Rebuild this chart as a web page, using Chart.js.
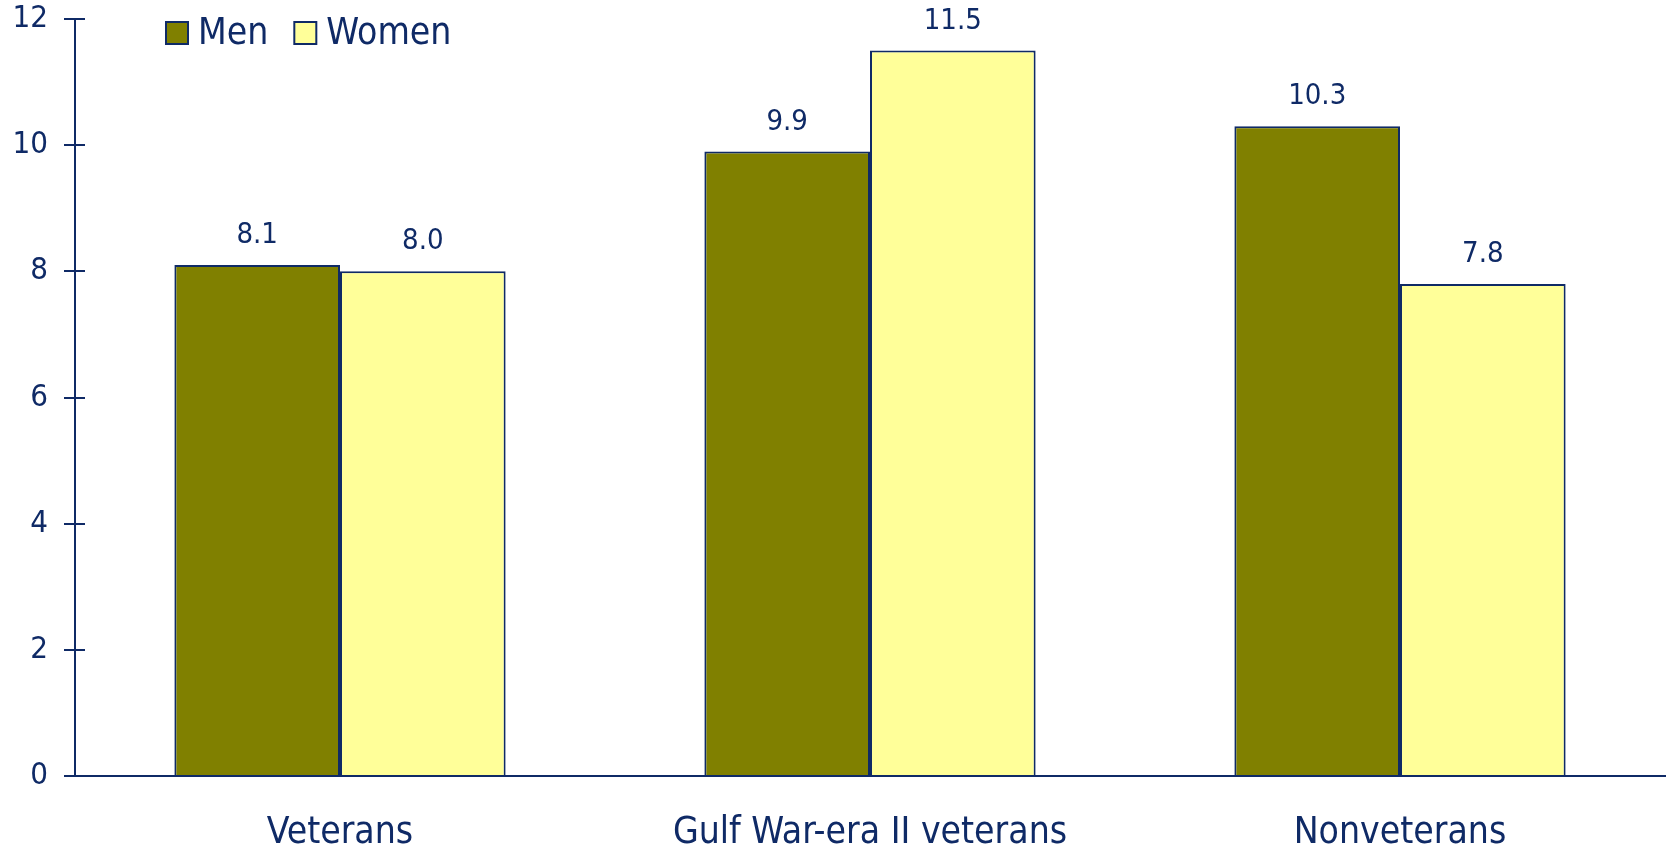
<!DOCTYPE html>
<html>
<head>
<meta charset="utf-8">
<style>
  html, body { margin: 0; padding: 0; background: #fff; }
  canvas { display: block; }
</style>
<script src="https://cdn.jsdelivr.net/npm/chart.js@4/dist/chart.umd.min.js"></script>
</head>
<body>
<canvas id="chart" width="1670" height="849"></canvas>
<script>
  var categories = ['Veterans', 'Gulf War-era II veterans', 'Nonveterans'];
  var menValues = [8.1, 9.9, 10.3];
  var womenValues = [8.0, 11.5, 7.8];
  var yTicks = [0, 2, 4, 6, 8, 10, 12];

  var NAVY = '#0f2a66';
  var FONT = '"DejaVu Sans Condensed", "DejaVu Sans", sans-serif';

  // value labels above each bar
  var valueLabels = {
    id: 'valueLabels',
    afterDatasetsDraw: function (chart) {
      var ctx = chart.ctx;
      ctx.save();
      ctx.fillStyle = NAVY;
      ctx.font = '29px ' + FONT;
      ctx.textAlign = 'center';
      ctx.textBaseline = 'bottom';
      chart.data.datasets.forEach(function (ds, i) {
        var meta = chart.getDatasetMeta(i);
        meta.data.forEach(function (bar, j) {
          ctx.fillText(ds.data[j].toFixed(1), bar.x, bar.y - 15);
        });
      });
      ctx.restore();
    }
  };

  // legend inside the plot, top-left
  var insideLegend = {
    id: 'insideLegend',
    afterDraw: function (chart) {
      var ctx = chart.ctx;
      var x = chart.chartArea.left + 91;
      var top = 22;
      var box = 22;
      ctx.save();
      ctx.font = '37px ' + FONT;
      ctx.textBaseline = 'middle';
      chart.data.datasets.forEach(function (ds) {
        ctx.fillStyle = ds.backgroundColor;
        ctx.fillRect(x, top, box, box);
        ctx.lineWidth = 2;
        ctx.strokeStyle = NAVY;
        ctx.strokeRect(x, top, box, box);
        ctx.fillStyle = NAVY;
        ctx.fillText(ds.label, x + box + 10, top + box / 2 + 1);
        x += box + 10 + ctx.measureText(ds.label).width + 26;
      });
      ctx.restore();
    }
  };

  // small inner part of the y tick marks (they cross the axis)
  var crossTicks = {
    id: 'crossTicks',
    afterDraw: function (chart) {
      var ctx = chart.ctx;
      var y = chart.scales.y;
      ctx.save();
      ctx.strokeStyle = NAVY;
      ctx.lineWidth = 2;
      y.ticks.forEach(function (t) {
        var py = Math.round(y.getPixelForValue(t.value));
        ctx.beginPath();
        ctx.moveTo(y.right, py);
        ctx.lineTo(y.right + 10, py);
        ctx.stroke();
      });
      ctx.restore();
    }
  };

  new Chart(document.getElementById('chart'), {
    type: 'bar',
    data: {
      labels: categories,
      datasets: [{
        label: 'Men',
        data: menValues,
        backgroundColor: '#808000',
        borderColor: NAVY,
        borderWidth: 2,
        borderSkipped: 'bottom',
        categoryPercentage: 0.625,
        barPercentage: 1.0,
      }, {
        label: 'Women',
        data: womenValues,
        backgroundColor: '#ffff99',
        borderColor: NAVY,
        borderWidth: 2,
        borderSkipped: 'bottom',
        categoryPercentage: 0.625,
        barPercentage: 1.0,
      }],
    },
    options: {
      responsive: false,
      animation: false,
      layout: { padding: { top: 19, right: 5, left: 0, bottom: 0 } },
      plugins: {
        legend: { display: false },
        tooltip: { enabled: false },
      },
      scales: {
        x: {
          grid: { display: false, drawTicks: false },
          border: { color: NAVY, width: 2 },
          ticks: { color: NAVY, font: { family: FONT, size: 37 }, padding: 35 },
          afterFit: function (scale) {
            scale.height = 73;
            scale.paddingLeft = 0;
            scale.paddingRight = 0;
          },
        },
        y: {
          min: 0,
          max: 12,
          afterBuildTicks: function (scale) {
            scale.ticks = yTicks.map(function (v) { return { value: v }; });
          },
          grid: { drawOnChartArea: false, tickLength: 11, color: NAVY, lineWidth: 2 },
          border: { color: NAVY, width: 2 },
          ticks: { color: NAVY, font: { family: FONT, size: 31 }, padding: 16 },
          afterFit: function (scale) {
            scale.width = 75;
            scale.paddingTop = 0;
            scale.paddingBottom = 0;
          },
        },
      },
    },
    plugins: [valueLabels, insideLegend, crossTicks],
  });
</script>
</body>
</html>
